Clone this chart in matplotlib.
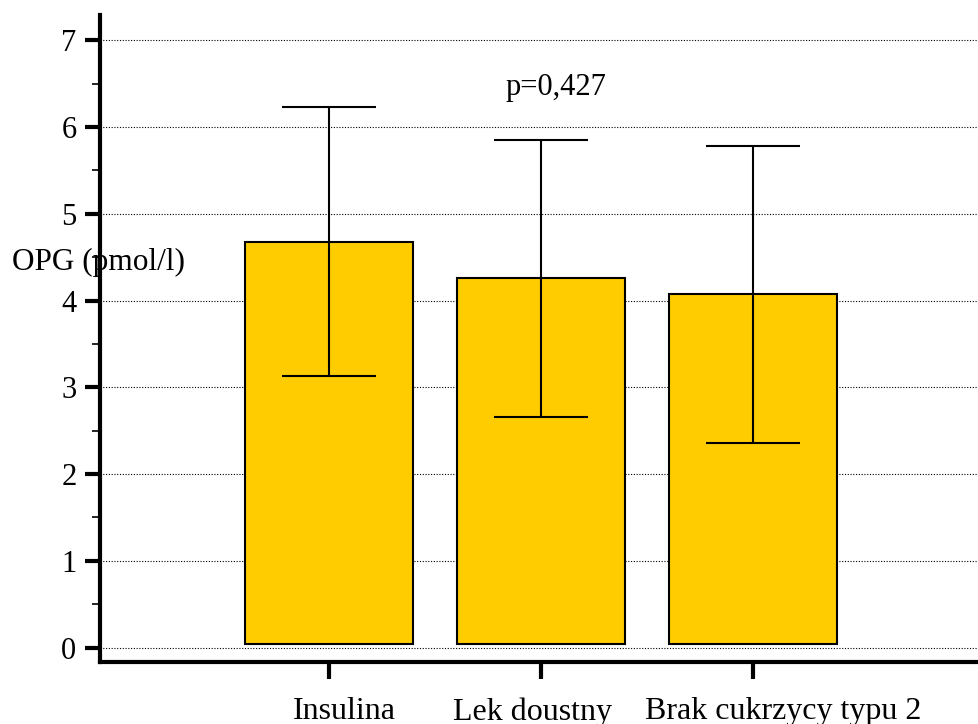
import matplotlib
matplotlib.use("Agg")
import matplotlib.pyplot as plt
from matplotlib.ticker import MultipleLocator

categories = ["Insulina", "Lek doustny", "Brak cukrzycy typu 2"]
means = [4.68, 4.255, 4.07]
sds = [1.55, 1.595, 1.715]
p_text = "p=0,427"
y_label = "OPG (pmol/l)"

plt.rcParams['font.family'] = ['Liberation Serif', 'DejaVu Serif']

fig = plt.figure(figsize=(9.79, 7.24), dpi=100)
ax = fig.add_axes([100/979, 62/724, 1 - 100/979, (662-15)/724])

x = list(range(len(categories)))
base = 0.045
ax.bar(x, [m - base for m in means], bottom=base, width=0.79, color="#FFCC00",
       edgecolor="black", linewidth=1.5, zorder=2)
ax.errorbar(x, means, yerr=sds, fmt="none", ecolor="black", elinewidth=1.5,
            capsize=34, capthick=1.5, zorder=3)

ax.set_xlim(-1.08, 3.066)
ax.set_ylim(-0.165, 7.29)
ax.set_xticks(x)
ax.set_xticklabels([""] * len(categories))
# category labels, slightly offset from their ticks as in the reference
label_shift_pt = [10.8, -5.8, 21.6]
for xi, name, dx in zip(x, categories, label_shift_pt):
    ax.annotate(name, xy=(xi, 0), xycoords=ax.get_xaxis_transform(),
                xytext=(dx, -25.5), textcoords='offset points',
                ha='center', va='top', fontsize=23, annotation_clip=False)

ax.yaxis.set_major_locator(MultipleLocator(1))
ax.yaxis.set_minor_locator(MultipleLocator(0.5))
ax.tick_params(axis='y', which='major', length=11, width=3, labelsize=22, pad=6)
ax.tick_params(axis='y', which='minor', length=6, width=1.2)
ax.tick_params(axis='x', which='major', length=12, width=3, pad=14)
for s in ['top', 'right']:
    ax.spines[s].set_visible(False)
for s in ['left', 'bottom']:
    ax.spines[s].set_linewidth(3)

ax.grid(axis='y', which='major', linestyle=(0, (1, 1.5)), color='black', linewidth=0.8, zorder=0)
ax.set_axisbelow(True)

ax.text(1.07, 6.45, p_text, fontsize=22, ha='center', va='center')
fig.text(12/979, 1 - 262/724, y_label, fontsize=22.5, ha='left', va='center', zorder=5)

fig.savefig("out.png", dpi=100)
